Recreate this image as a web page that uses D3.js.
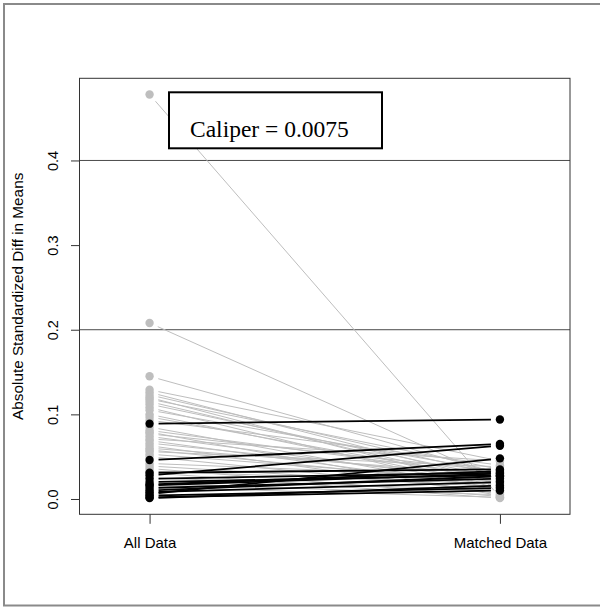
<!DOCTYPE html>
<html>
<head>
<meta charset="utf-8">
<script src="https://cdn.jsdelivr.net/npm/d3@7"></script>
<style>
  html, body { margin: 0; padding: 0; background: #fff; }
  svg { display: block; }
</style>
</head>
<body>
<div id="chart"></div>
<script>
// Absolute standardized mean differences per covariate, before and after matching
const groups = ["All Data", "Matched Data"];

const allDataDiff = [
  0.478, 0.208, 0.145, 0.129, 0.126, 0.123, 0.120, 0.118, 0.115, 0.112,
  0.108, 0.105, 0.100, 0.097, 0.093, 0.085, 0.081, 0.079, 0.077, 0.074,
  0.071, 0.069, 0.066, 0.063, 0.060, 0.058, 0.056, 0.053, 0.050, 0.042,
  0.039, 0.036, 0.033, 0.031, 0.025, 0.018, 0.014,
  0.089, 0.046, 0.028, 0.006, 0.031, 0.024, 0.020, 0.017, 0.013, 0.010,
  0.008, 0.004, 0.002, 0.001, 0.016
];

const matchedDataDiff = [
  0.002, 0.022, 0.030, 0.045, 0.020, 0.028, 0.012, 0.035, 0.018, 0.025,
  0.008, 0.032, 0.015, 0.022, 0.040, 0.010, 0.027, 0.004, 0.033, 0.019,
  0.045, 0.013, 0.024, 0.006, 0.029, 0.017, 0.038, 0.021, 0.009, 0.026,
  0.014, 0.003, 0.018, 0.001, 0.010, 0.005, 0.002,
  0.094, 0.065, 0.063, 0.048, 0.035, 0.031, 0.028, 0.033, 0.024, 0.027,
  0.020, 0.013, 0.010, 0.016, 0.030
];

const yTicks = [0, 0.1, 0.2, 0.3, 0.4];
const referenceLines = [0.2, 0.4];
const caliperLabel = "Caliper = 0.0075";
const yTitle = "Absolute Standardized Diff in Means";

const W = 600, H = 607;
const plot = { left: 79.5, right: 570, top: 78.3, bottom: 514.3 };
const GRAY = "#bebebe";

const rows = allDataDiff.map((v, i) => ({
  before: v,
  after: matchedDataDiff[i],
  worse: matchedDataDiff[i] > v
}));
// improved covariates first, so worsened ones sit on top
const ordered = rows.filter(d => !d.worse).concat(rows.filter(d => d.worse));

const svg = d3.select("#chart").append("svg")
  .attr("width", W).attr("height", H);

svg.append("rect").attr("width", W).attr("height", H).attr("fill", "#fff");

// outer frame
svg.append("rect")
  .attr("x", 4).attr("y", 4).attr("width", 600).attr("height", 601.5)
  .attr("fill", "none").attr("stroke", "#8a8a8a").attr("stroke-width", 2);

const x = d3.scalePoint().domain(groups)
  .range([plot.left, plot.right]).padding(0.2);

const all = allDataDiff.concat(matchedDataDiff);
const lo = d3.min(all), hi = d3.max(all), pad = (hi - lo) * 0.04;
const y = d3.scaleLinear().domain([lo - pad, hi + pad])
  .range([plot.bottom, plot.top]);

// reference lines
svg.selectAll("line.ref").data(referenceLines).join("line")
  .attr("class", "ref")
  .attr("x1", plot.left).attr("x2", plot.right)
  .attr("y1", d => y(d)).attr("y2", d => y(d))
  .attr("stroke", "#4a4a4a").attr("stroke-width", 1);

// connecting segments with a gap around each point
const gap = 9;
const x0 = x(groups[0]), x1 = x(groups[1]);
svg.append("g").selectAll("line").data(ordered).join("line")
  .each(function (d) {
    const ya = y(d.before), yb = y(d.after);
    const dx = x1 - x0, dy = yb - ya, len = Math.hypot(dx, dy);
    const ux = dx / len, uy = dy / len;
    d3.select(this)
      .attr("x1", x0 + ux * gap).attr("y1", ya + uy * gap)
      .attr("x2", x1 - ux * gap).attr("y2", yb - uy * gap);
  })
  .attr("stroke", d => d.worse ? "#000" : GRAY)
  .attr("stroke-width", d => d.worse ? 1.8 : 1);

// points
const pts = svg.append("g");
ordered.forEach(d => {
  [[groups[0], d.before], [groups[1], d.after]].forEach(([g, v]) => {
    pts.append("circle")
      .attr("cx", x(g)).attr("cy", y(v)).attr("r", 4.2)
      .attr("fill", d.worse ? "#000" : GRAY);
  });
});

// plot box
svg.append("rect")
  .attr("x", plot.left).attr("y", plot.top)
  .attr("width", plot.right - plot.left).attr("height", plot.bottom - plot.top)
  .attr("fill", "none").attr("stroke", "#333").attr("stroke-width", 1);

// y axis
const yAxis = svg.append("g")
  .attr("transform", `translate(${plot.left},0)`)
  .call(d3.axisLeft(y).tickValues(yTicks).tickSize(8.5).tickFormat(d3.format(".1f")));
yAxis.select(".domain").remove();
yAxis.selectAll(".tick line").attr("stroke", "#333");
yAxis.selectAll(".tick text")
  .attr("x", 0).attr("dy", null)
  .attr("transform", "translate(-21.5,0) rotate(-90)")
  .attr("text-anchor", "middle")
  .attr("font-family", "Liberation Sans, Arial, sans-serif")
  .attr("font-size", 14.5).attr("fill", "#000");

// x axis
const xAxis = svg.append("g")
  .attr("transform", `translate(0,${plot.bottom})`)
  .call(d3.axisBottom(x).tickSize(9.5));
xAxis.select(".domain").remove();
xAxis.selectAll(".tick line").attr("stroke", "#333");
xAxis.selectAll(".tick text")
  .attr("y", 33.4).attr("dy", null)
  .attr("font-family", "Liberation Sans, Arial, sans-serif")
  .attr("font-size", 15).attr("fill", "#000");

// y axis title
svg.append("text")
  .attr("transform", `translate(23,${(plot.top + plot.bottom) / 2}) rotate(-90)`)
  .attr("text-anchor", "middle")
  .attr("font-family", "Liberation Sans, Arial, sans-serif")
  .attr("font-size", 15.3).attr("fill", "#000")
  .text(yTitle);

// caliper annotation
svg.append("rect")
  .attr("x", 169).attr("y", 92.3).attr("width", 213).attr("height", 56)
  .attr("fill", "#fff").attr("stroke", "#000").attr("stroke-width", 2);
svg.append("text")
  .attr("x", 190).attr("y", 137)
  .attr("font-family", "Liberation Serif, Times New Roman, serif")
  .attr("font-size", 23.5).attr("fill", "#000")
  .text(caliperLabel);
</script>
</body>
</html>
